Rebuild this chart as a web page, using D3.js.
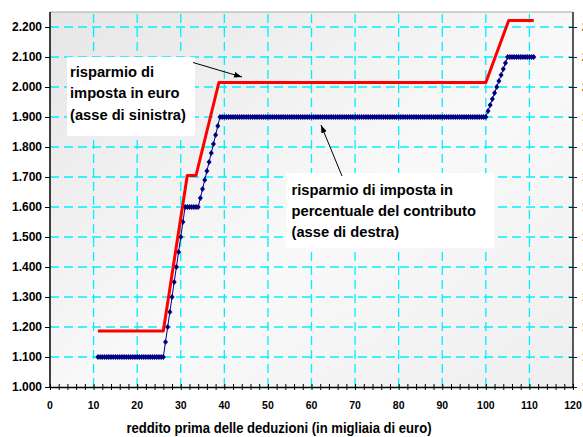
<!DOCTYPE html>
<html>
<head>
<meta charset="utf-8">
<script src="https://cdn.jsdelivr.net/npm/d3@7"></script>
<style>
  body { margin: 0; background: #fff; }
  svg { display: block; font-family: "Liberation Sans", Arial, sans-serif; }
</style>
</head>
<body>
<div class="graph"></div>
<script>
// tick labels
const incomeTicks = [0, 10, 20, 30, 40, 50, 60, 70, 80, 90, 100, 110, 120];
const euroTicks = [1000, 1100, 1200, 1300, 1400, 1500, 1600, 1700, 1800, 1900, 2000, 2100, 2200];

// risparmio di imposta in euro (asse di sinistra) - red line, read at its corners
const redIncome = [11, 26, 31.5, 33.5, 38.75, 100, 105.25, 111];
const redSaving = [1187, 1187, 1705, 1705, 2015, 2015, 2222, 2222];

// risparmio in percentuale del contributo (asse di destra) - blue markers,
// read against the grid (right-axis labels are cut off in the picture)
const blueIncome = [
  11, 11.5, 12, 12.5, 13, 13.5, 14, 14.5, 15, 15.5, 16, 16.5, 17, 17.5, 18, 18.5, 19, 19.5, 20, 20.5,
  21, 21.5, 22, 22.5, 23, 23.5, 24, 24.5, 25, 25.5, 26, 26.5, 27, 27.5, 28, 28.5, 29, 29.5, 30, 30.5,
  31, 31.5, 32, 32.5, 33, 33.5, 34, 34.5, 35, 35.5, 36, 36.5, 37, 37.5, 38, 38.5, 39, 39.5, 40, 40.5,
  41, 41.5, 42, 42.5, 43, 43.5, 44, 44.5, 45, 45.5, 46, 46.5, 47, 47.5, 48, 48.5, 49, 49.5, 50, 50.5,
  51, 51.5, 52, 52.5, 53, 53.5, 54, 54.5, 55, 55.5, 56, 56.5, 57, 57.5, 58, 58.5, 59, 59.5, 60, 60.5,
  61, 61.5, 62, 62.5, 63, 63.5, 64, 64.5, 65, 65.5, 66, 66.5, 67, 67.5, 68, 68.5, 69, 69.5, 70, 70.5,
  71, 71.5, 72, 72.5, 73, 73.5, 74, 74.5, 75, 75.5, 76, 76.5, 77, 77.5, 78, 78.5, 79, 79.5, 80, 80.5,
  81, 81.5, 82, 82.5, 83, 83.5, 84, 84.5, 85, 85.5, 86, 86.5, 87, 87.5, 88, 88.5, 89, 89.5, 90, 90.5,
  91, 91.5, 92, 92.5, 93, 93.5, 94, 94.5, 95, 95.5, 96, 96.5, 97, 97.5, 98, 98.5, 99, 99.5, 100, 100.5,
  101, 101.5, 102, 102.5, 103, 103.5, 104, 104.5, 105, 105.5, 106, 106.5, 107, 107.5, 108, 108.5, 109, 109.5, 110, 110.5,
  111
];
const blueSaving = [
  1100, 1100, 1100, 1100, 1100, 1100, 1100, 1100, 1100, 1100, 1100, 1100, 1100, 1100, 1100, 1100, 1100, 1100, 1100, 1100,
  1100, 1100, 1100, 1100, 1100, 1100, 1100, 1100, 1100, 1100, 1100, 1150, 1200, 1250, 1300, 1350, 1400, 1450, 1500, 1550,
  1600, 1600, 1600, 1600, 1600, 1600, 1600, 1630, 1660, 1690, 1720, 1750, 1780, 1810, 1840, 1870, 1900, 1900, 1900, 1900,
  1900, 1900, 1900, 1900, 1900, 1900, 1900, 1900, 1900, 1900, 1900, 1900, 1900, 1900, 1900, 1900, 1900, 1900, 1900, 1900,
  1900, 1900, 1900, 1900, 1900, 1900, 1900, 1900, 1900, 1900, 1900, 1900, 1900, 1900, 1900, 1900, 1900, 1900, 1900, 1900,
  1900, 1900, 1900, 1900, 1900, 1900, 1900, 1900, 1900, 1900, 1900, 1900, 1900, 1900, 1900, 1900, 1900, 1900, 1900, 1900,
  1900, 1900, 1900, 1900, 1900, 1900, 1900, 1900, 1900, 1900, 1900, 1900, 1900, 1900, 1900, 1900, 1900, 1900, 1900, 1900,
  1900, 1900, 1900, 1900, 1900, 1900, 1900, 1900, 1900, 1900, 1900, 1900, 1900, 1900, 1900, 1900, 1900, 1900, 1900, 1900,
  1900, 1900, 1900, 1900, 1900, 1900, 1900, 1900, 1900, 1900, 1900, 1900, 1900, 1900, 1900, 1900, 1900, 1900, 1900, 1920,
  1940, 1960, 1980, 2000, 2020, 2040, 2060, 2080, 2100, 2100, 2100, 2100, 2100, 2100, 2100, 2100, 2100, 2100, 2100, 2100,
  2100
];

const width = 583;
const height = 437;
const plotLeft = 50, plotRight = 573, plotTop = 12, plotBottom = 387;

let svg = d3.select(".graph")
  .append("svg")
  .attr("width", width)
  .attr("height", height);

let x = d3.scaleLinear().domain([0, 120]).range([plotLeft, plotRight]);
let y = d3.scaleLinear().domain([1000, 2250]).range([plotBottom, plotTop]);

// italian number format: 1.000, 2.200
let it = d3.formatLocale({ decimal: ",", thousands: ".", grouping: [3], currency: ["€", ""] });
let fmt = it.format(",d");

// plot background, soft grey gradient
let defs = svg.append("defs");
let grad = defs.append("linearGradient")
  .attr("id", "bg").attr("x1", "0").attr("y1", "0").attr("x2", "1").attr("y2", "1");
grad.append("stop").attr("offset", "0%").attr("stop-color", "#e6e6e6");
grad.append("stop").attr("offset", "55%").attr("stop-color", "#f9f9f9");
grad.append("stop").attr("offset", "100%").attr("stop-color", "#eeeeee");

svg.append("rect")
  .attr("x", plotLeft).attr("y", plotTop)
  .attr("width", plotRight - plotLeft).attr("height", plotBottom - plotTop)
  .attr("fill", "url(#bg)");

// dashed cyan grid
svg.append("g").selectAll("line")
  .data(euroTicks.slice(1))
  .enter().append("line")
  .attr("x1", plotLeft).attr("x2", plotRight)
  .attr("y1", d => y(d)).attr("y2", d => y(d))
  .attr("stroke", "#00f0ff").attr("stroke-width", 1.3)
  .attr("stroke-dasharray", "9,5");

svg.append("g").selectAll("line")
  .data(incomeTicks.slice(1, -1))
  .enter().append("line")
  .attr("y1", plotBottom).attr("y2", plotTop)
  .attr("x1", d => x(d)).attr("x2", d => x(d))
  .attr("stroke", "#00f0ff").attr("stroke-width", 1.3)
  .attr("stroke-dasharray", "9,5");

// top frame
svg.append("line")
  .attr("x1", plotLeft).attr("x2", plotRight).attr("y1", plotTop).attr("y2", plotTop)
  .attr("stroke", "#a8a8a8");

// left axis
let yAxis = svg.append("g")
  .attr("transform", "translate(" + plotLeft + ",0)")
  .call(d3.axisLeft(y).tickValues(euroTicks).tickFormat(fmt).tickSize(5).tickSizeOuter(0).tickPadding(3));
yAxis.select(".domain").attr("stroke", "#000").attr("stroke-width", 1.5).attr("d", "M0," + plotBottom + "V" + plotTop);
yAxis.selectAll("text").attr("font-size", 12).attr("font-weight", "bold").attr("fill", "#000");

// right axis (labels fall outside the picture, as in the original)
let yAxisR = svg.append("g")
  .attr("transform", "translate(" + plotRight + ",0)")
  .call(d3.axisRight(y).tickValues(euroTicks).tickFormat(fmt).tickSize(4).tickSizeOuter(0).tickPadding(5));
yAxisR.select(".domain").attr("stroke", "#222").attr("stroke-width", 1.5).attr("d", "M0," + plotBottom + "V" + plotTop);
yAxisR.selectAll(".tick line").attr("x1", -4).attr("stroke", "#222");
yAxisR.selectAll("text").attr("font-size", 12).attr("font-weight", "bold").attr("fill", "#000");

// bottom axis, minor ticks every 2 crossing the line
let xAxis = svg.append("g")
  .attr("transform", "translate(0," + plotBottom + ")")
  .call(d3.axisBottom(x).tickValues(d3.range(0, 121, 2)).tickSize(3).tickSizeOuter(0).tickFormat(""));
xAxis.select(".domain").attr("stroke", "#000").attr("stroke-width", 1.5);
xAxis.selectAll(".tick line").attr("y1", -3).attr("stroke", "#000");

svg.append("g").selectAll("text")
  .data(incomeTicks)
  .enter().append("text")
  .attr("x", d => x(d)).attr("y", plotBottom + 22)
  .attr("text-anchor", "middle")
  .attr("font-size", 10.5).attr("font-weight", "bold")
  .attr("font-family", "'Liberation Sans Narrow', 'Liberation Sans', Arial, sans-serif")
  .attr("fill", "#000")
  .text(d => d);

svg.append("text")
  .attr("x", 279).attr("y", 433)
  .attr("text-anchor", "middle")
  .attr("font-size", 14).attr("font-weight", "bold")
  .attr("textLength", 305).attr("lengthAdjust", "spacingAndGlyphs")
  .attr("fill", "#000")
  .text("reddito prima delle deduzioni (in migliaia di euro)");

// blue series, thin line + diamond markers
let blue = blueIncome.map((d, i) => ({ income: d, saving: blueSaving[i] }));
let red = redIncome.map((d, i) => ({ income: d, saving: redSaving[i] }));

let line = d3.line()
  .x(d => x(d.income))
  .y(d => y(d.saving));

svg.append("path")
  .datum(blue)
  .attr("d", line)
  .attr("fill", "none")
  .attr("stroke", "#000080")
  .attr("stroke-width", 1);

svg.append("g").selectAll("path")
  .data(blue)
  .enter().append("path")
  .attr("d", "M0,-3L2.5,0L0,3L-2.5,0Z")
  .attr("transform", d => "translate(" + x(d.income) + "," + y(d.saving) + ")")
  .attr("fill", "#000080");

// red series
svg.append("path")
  .datum(red)
  .attr("d", line)
  .attr("fill", "none")
  .attr("stroke", "#ff0000")
  .attr("stroke-width", 3)
  .attr("stroke-linejoin", "round");

// annotations
defs.append("marker")
  .attr("id", "head")
  .attr("viewBox", "0 0 10 10")
  .attr("refX", 10).attr("refY", 5)
  .attr("markerWidth", 8).attr("markerHeight", 8)
  .attr("orient", "auto")
  .append("path").attr("d", "M0,1.5L10,5L0,8.5Z").attr("fill", "#000");

function note(box, lines, x0, baselines) {
  svg.append("rect")
    .attr("x", box[0]).attr("y", box[1]).attr("width", box[2]).attr("height", box[3])
    .attr("fill", "#fff");
  let t = svg.append("text")
    .attr("font-size", 14.7).attr("font-weight", "bold").attr("fill", "#000");
  lines.forEach((s, i) => {
    t.append("tspan").attr("x", x0).attr("y", baselines[i]).text(s);
  });
}

note([67, 57, 128, 79], ["risparmio di", "imposta in euro", "(asse di sinistra)"], 70, [76.5, 98, 119.5]);
note([286, 173, 208, 75], ["risparmio di imposta in", "percentuale del contributo", "(asse di destra)"], 291.5, [195, 216, 237]);

svg.append("line")
  .attr("x1", 193).attr("y1", 62.5).attr("x2", 242).attr("y2", 77)
  .attr("stroke", "#000").attr("stroke-width", 1)
  .attr("marker-end", "url(#head)");

svg.append("line")
  .attr("x1", 342).attr("y1", 176).attr("x2", 321).attr("y2", 125)
  .attr("stroke", "#000").attr("stroke-width", 1)
  .attr("marker-end", "url(#head)");
</script>
</body>
</html>
